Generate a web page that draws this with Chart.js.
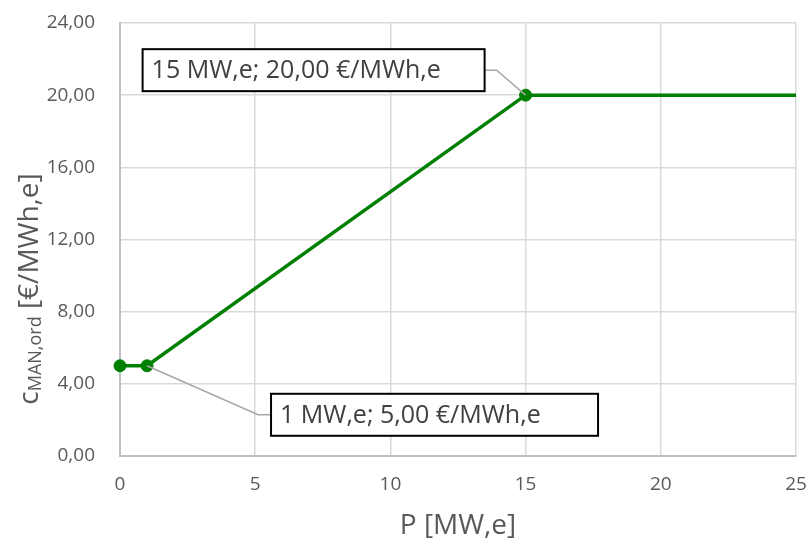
<!DOCTYPE html>
<html>
<head>
<meta charset="utf-8">
<script src="https://cdn.jsdelivr.net/npm/chart.js@4"></script>
<style>
  html, body { margin: 0; padding: 0; background: #fff; }
  #grafico { display: block; }
</style>
</head>
<body>
<canvas id="grafico" width="808" height="540"></canvas>
<script>
// dados
const potencias = [0, 1, 15, 25];          // P [MW,e]
const custos = [5, 5, 20, 20];             // c_MAN,ord [€/MWh,e]
const pontosMarcados = [0, 1, 15];         // pontos com marcador
const pontosRotulados = [15, 1];           // pontos com caixa de rótulo
const xTicks = [0, 5, 10, 15, 20, 25];
const yTicks = [0, 4, 8, 12, 16, 20, 24];
const yTickLabels = ['0,00', '4,00', '8,00', '12,00', '16,00', '20,00', '24,00'];

const corTexto = '#595959';
const fonte = '"Open Sans", "DejaVu Sans", sans-serif';

function formatarNum(v) {
    return v.toFixed(2).replace('.', ',');
}

// posição e tamanho das caixas em relação ao ponto (px)
const caixas = {
    15: { lado: 'esq', dx: -41, dy: -25, perna: 12, w: 342 },
    1: { lado: 'dir', dx: 124, dy: 49, perna: 13, w: 327 }
};

const pluginRotulos = {
    id: 'rotulos',
    afterDatasetsDraw(chart) {
        const ctx = chart.ctx;
        const sx = chart.scales.x;
        const sy = chart.scales.y;
        ctx.save();
        ctx.font = '25px ' + fonte;
        ctx.textBaseline = 'middle';
        pontosRotulados.forEach(p => {
            const i = potencias.indexOf(p);
            const px = sx.getPixelForValue(p);
            const py = sy.getPixelForValue(custos[i]);
            const texto = `${p} MW,e; ${formatarNum(custos[i])} €/MWh,e`;
            const cfg = caixas[p];
            const w = cfg.w;
            const h = 42;
            const cy = py + cfg.dy;
            let x0, xPerna;
            if (cfg.lado === 'esq') {
                x0 = px + cfg.dx - w;
                xPerna = x0 + w;
            } else {
                x0 = px + cfg.dx;
                xPerna = x0;
            }
            // linha de chamada
            ctx.strokeStyle = '#a6a6a6';
            ctx.lineWidth = 1.5;
            ctx.beginPath();
            ctx.moveTo(px, py);
            if (cfg.lado === 'esq') {
                ctx.lineTo(xPerna + cfg.perna, cy);
            } else {
                ctx.lineTo(xPerna - cfg.perna, cy);
            }
            ctx.lineTo(xPerna, cy);
            ctx.stroke();
            // caixa
            ctx.fillStyle = '#fff';
            ctx.fillRect(x0, cy - h / 2, w, h);
            ctx.strokeStyle = '#000';
            ctx.lineWidth = 2;
            ctx.strokeRect(x0, cy - h / 2, w, h);
            ctx.fillStyle = '#404040';
            ctx.fillText(texto, x0 + 9, cy + 1);
        });
        ctx.restore();
    },
    afterDraw(chart) {
        // título do eixo y com subscrito
        const ctx = chart.ctx;
        const partes = [
            { t: 'c', f: '28px ' + fonte, d: 0 },
            { t: 'MAN,ord', f: '18px ' + fonte, d: 3 },
            { t: ' [€/MWh,e]', f: '28px ' + fonte, d: 0 }
        ];
        ctx.save();
        let total = 0;
        partes.forEach(pt => { ctx.font = pt.f; pt.w = ctx.measureText(pt.t).width; total += pt.w; });
        ctx.translate(38, 289);
        ctx.rotate(-Math.PI / 2);
        ctx.fillStyle = corTexto;
        ctx.textBaseline = 'alphabetic';
        let x = -total / 2;
        partes.forEach(pt => {
            ctx.font = pt.f;
            ctx.fillText(pt.t, x, pt.d);
            x += pt.w;
        });
        ctx.restore();
    }
};

const ctx = document.getElementById('grafico').getContext('2d');
new Chart(ctx, {
    type: 'line',
    data: {
        datasets: [{
            data: potencias.map((p, i) => ({ x: p, y: custos[i] })),
            borderColor: '#008000',
            backgroundColor: '#008000',
            borderWidth: 3.5,
            tension: 0,
            clip: false,
            pointRadius: c => pontosMarcados.includes(c.raw.x) ? 6 : 0,
            pointBackgroundColor: '#008000',
            pointBorderColor: '#008000',
            pointBorderWidth: 1
        }]
    },
    options: {
        responsive: false,
        animation: false,
        layout: { padding: { left: 0, right: 12, top: 23, bottom: 0 } },
        plugins: {
            legend: { display: false },
            tooltip: { enabled: false }
        },
        scales: {
            x: {
                type: 'linear',
                min: xTicks[0],
                max: xTicks[xTicks.length - 1],
                afterBuildTicks: s => { s.ticks = xTicks.map(v => ({ value: v })); },
                afterFit: s => {
                    s.height = 84;
                    s.paddingLeft = 0;
                    s.paddingRight = 0;
                },
                ticks: {
                    padding: 17,
                    color: corTexto,
                    font: { family: fonte, size: 19 },
                    callback: v => String(v)
                },
                grid: { color: '#d9d9d9', lineWidth: 1.5, drawTicks: false },
                border: { color: '#bfbfbf', width: 2 },
                title: {
                    display: true,
                    text: 'P [MW,e]',
                    color: corTexto,
                    font: { family: fonte, size: 28, lineHeight: 1 },
                    padding: { top: 0, bottom: 0 }
                }
            },
            y: {
                min: yTicks[0],
                max: yTicks[yTicks.length - 1],
                afterBuildTicks: s => { s.ticks = yTicks.map(v => ({ value: v })); },
                afterFit: s => {
                    s.width = 120;
                    s.paddingTop = 0;
                    s.paddingBottom = 0;
                },
                ticks: {
                    padding: 25,
                    color: corTexto,
                    font: { family: fonte, size: 19 },
                    callback: v => yTickLabels[yTicks.indexOf(v)]
                },
                grid: { color: '#d9d9d9', lineWidth: 1.5, drawTicks: false },
                border: { color: '#bfbfbf', width: 2 }
            }
        }
    },
    plugins: [pluginRotulos]
});
</script>
</body>
</html>
